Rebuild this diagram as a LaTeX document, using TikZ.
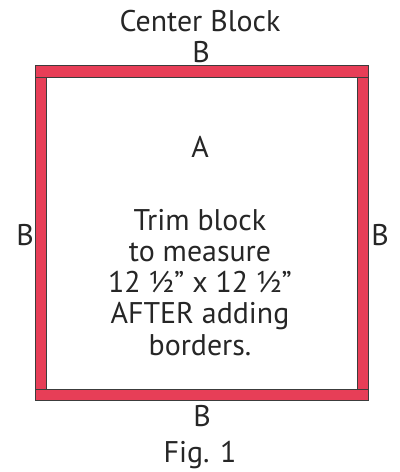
\documentclass[tikz,border=0pt]{standalone}
\usepackage{fontspec}
\setmainfont{PT Sans}
\definecolor{stripred}{RGB}{231,62,87}
\definecolor{edgegray}{RGB}{60,60,60}
\begin{document}
\begin{tikzpicture}[x=1bp,y=-1bp,
  strip/.style={fill=stripred,draw=edgegray,line width=1bp},
  lbl/.style={inner sep=0pt,anchor=base,font=\fontsize{30}{31.3}\selectfont,text=black!85}]
\useasboundingbox (0,0) rectangle (399,472);
% border strips
\draw[strip] (35,66) rectangle (368,77.5);
\draw[strip] (35,389) rectangle (368,400);
\draw[strip] (35,77.5) rectangle (46,389);
\draw[strip] (357,77.5) rectangle (368,389);
% labels
\node[lbl] (title) at (200,32) {Center Block};
\node[lbl] (btop) at (201,63) {B};
\node[lbl] (a) at (200,158) {A};
\node[lbl,anchor=north,align=center] (trim) at (200,209)
  {Trim block\\to measure\\12 ½” x 12 ½”\\AFTER adding\\borders.};
\node[lbl] (bleft) at (25,245) {B};
\node[lbl] (bright) at (380,245) {B};
\node[lbl] (bbottom) at (202,426) {B};
\node[lbl] (fig) at (200,462) {Fig. 1};
\end{tikzpicture}
\end{document}
